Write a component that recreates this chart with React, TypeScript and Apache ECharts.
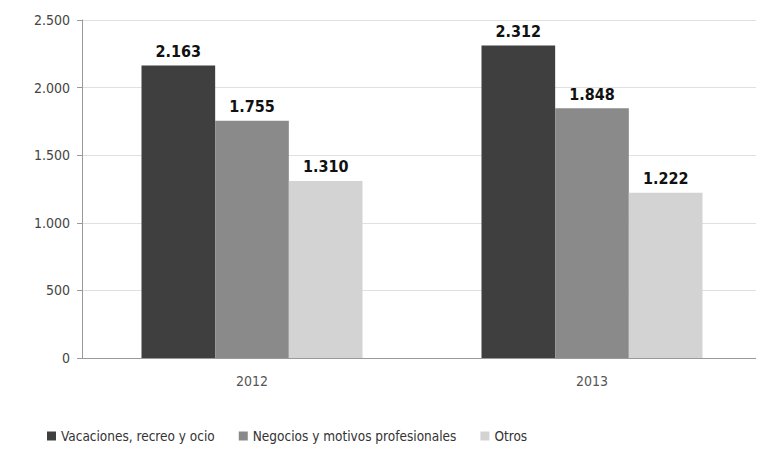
import React, { useEffect, useRef } from "react";
import * as echarts from "echarts";

const categories = ["2012", "2013"];
const vacaciones = [2163, 2312];
const negocios = [1755, 1848];
const otros = [1310, 1222];
const seriesNames = ["Vacaciones, recreo y ocio", "Negocios y motivos profesionales", "Otros"];
const yTicks = { min: 0, max: 2500, interval: 500 };

const fmt = (v: number) => {
  const s = String(Math.round(v));
  return s.replace(/\B(?=(\d{3})+(?!\d))/g, ".");
};

export default function App() {
  const ref = useRef<HTMLDivElement>(null);
  useEffect(() => {
    if (!ref.current) return;
    const chart = echarts.init(ref.current, undefined, { renderer: "svg" });
    const font = "'Liberation Sans Narrow', 'DejaVu Sans Condensed', 'Liberation Sans', Arial, sans-serif";
    const colors = ["#3f3f3f", "#8a8a8a", "#d3d3d3"];
    const data = [vacaciones, negocios, otros];
    chart.setOption({
      animation: false,
      backgroundColor: "#ffffff",
      grid: { left: 82, right: 2, top: 20, bottom: 99 },
      legend: {
        bottom: 9,
        left: 42,
        itemWidth: 9,
        itemHeight: 9,
        itemGap: 24,
        itemStyle: { borderWidth: 0 },
        icon: "rect",
        textStyle: { fontFamily: font, fontSize: 13.5, color: "#333" },
        data: seriesNames,
      },
      xAxis: {
        type: "category",
        data: categories,
        axisLine: { show: true, lineStyle: { color: "#999" } },
        axisTick: { show: false },
        axisLabel: { fontFamily: font, fontSize: 14, color: "#555", margin: 16 },
      },
      yAxis: {
        type: "value",
        min: yTicks.min,
        max: yTicks.max,
        interval: yTicks.interval,
        axisLine: { show: true, lineStyle: { color: "#999" } },
        axisTick: { show: true, inside: false, length: 5, lineStyle: { color: "#999" } },
        splitLine: { lineStyle: { color: "#e0e0e0" } },
        axisLabel: { fontFamily: font, fontSize: 14, color: "#444", margin: 12, formatter: (v: number) => fmt(v) },
      },
      series: seriesNames.map((name, i) => ({
        name,
        type: "bar",
        data: data[i],
        barGap: "0%",
        barCategoryGap: "35%",
        itemStyle: { color: colors[i] },
        label: {
          show: true,
          position: "top",
          distance: 6,
          fontFamily: font,
          fontSize: 16,
          fontWeight: "bold",
          color: "#111",
          formatter: (p: any) => fmt(p.value),
        },
      })),
    });
    return () => chart.dispose();
  }, []);
  return <div ref={ref} style={{ width: 764, height: 457, margin: -8 }} />;
}
